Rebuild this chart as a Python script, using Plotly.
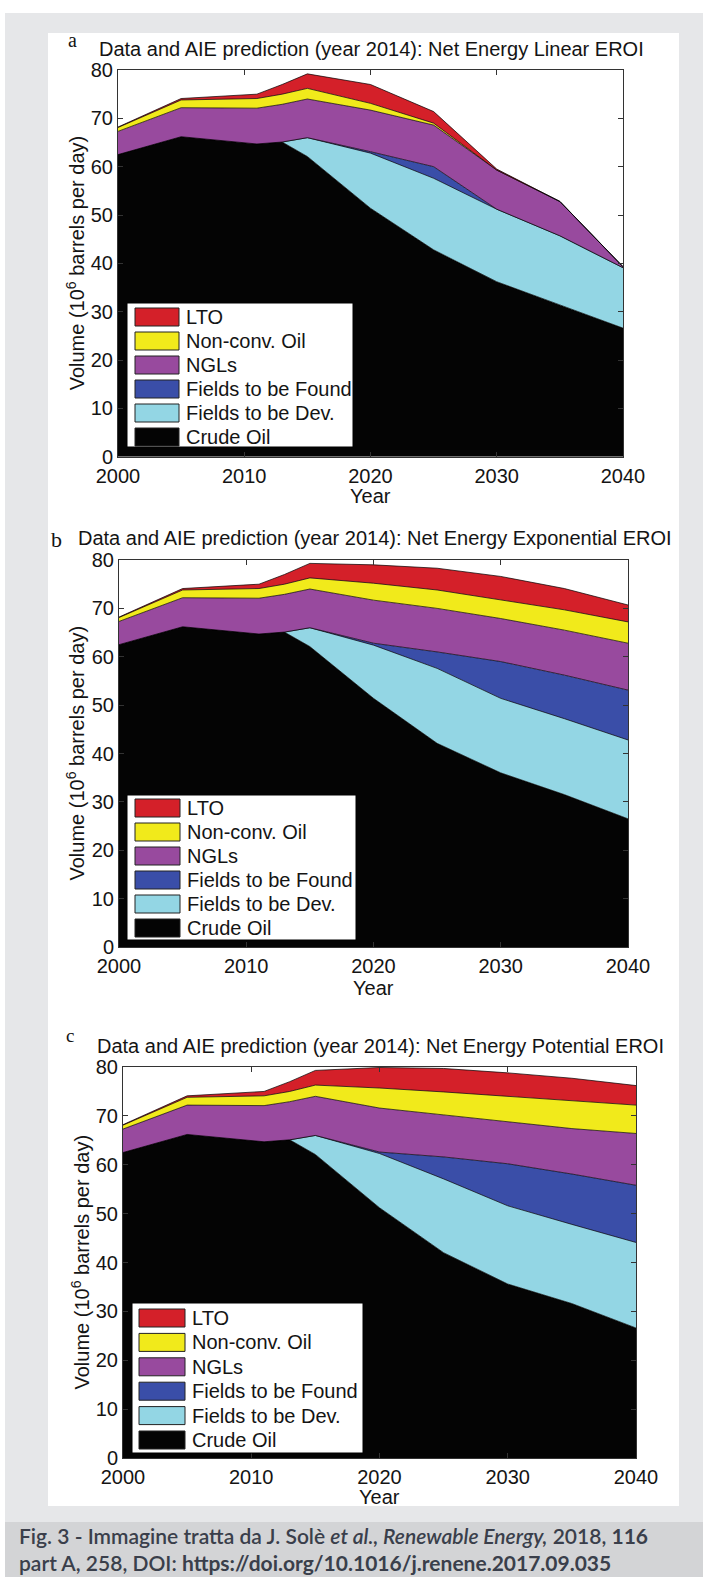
import plotly.graph_objects as go

W, H = 708, 1577

# ---------------------------------------------------------------- data
years = [2000, 2005, 2011, 2013, 2015, 2020, 2025, 2030, 2035, 2040]
x_ticks = [2000, 2010, 2020, 2030, 2040]
y_ticks = [0, 10, 20, 30, 40, 50, 60, 70, 80]

# stacking order, bottom to top
layer_names = ["Crude Oil", "Fields to be Dev.", "Fields to be Found",
               "NGLs", "Non-conv. Oil", "LTO"]
layer_colors = ["#040404", "#93d6e4", "#3a4ea8", "#984a9e", "#f1ea1b", "#d42029"]

# (a) Net Energy Linear EROI, 10^6 barrels per day
linear_crude = [62.5, 66.2, 64.7, 65.1, 62.1, 51.4, 42.8, 36.2, 31.4, 26.6]
linear_dev = [0, 0, 0, 0, 3.9, 11.4, 14.8, 15.0, 14.3, 12.5]
linear_found = [0, 0, 0, 0, 0, 0.3, 2.4, 0, 0, 0]
linear_ngl = [4.8, 6.0, 7.4, 7.8, 8.0, 8.6, 8.6, 8.1, 7.1, 0.2]
linear_nonconv = [0.8, 1.6, 2.0, 2.1, 2.2, 1.4, 0.4, 0, 0, 0]
linear_lto = [0.1, 0.3, 0.9, 2.0, 3.0, 3.9, 2.4, 0.2, 0, 0]

# (b) Net Energy Exponential EROI
expo_crude = [62.5, 66.2, 64.7, 65.1, 62.1, 51.4, 42.1, 36.0, 31.5, 26.5]
expo_dev = [0, 0, 0, 0, 3.9, 11.0, 15.5, 15.4, 15.7, 16.3]
expo_found = [0, 0, 0, 0, 0, 0.4, 3.4, 7.6, 9.0, 10.3]
expo_ngl = [4.8, 6.0, 7.4, 7.8, 8.0, 8.9, 9.0, 8.9, 9.3, 9.7]
expo_nonconv = [0.8, 1.6, 2.0, 2.1, 2.3, 3.5, 3.8, 3.8, 4.2, 4.4]
expo_lto = [0.1, 0.3, 0.9, 2.0, 3.0, 3.8, 4.5, 4.9, 4.4, 3.5]

# (c) Net Energy Potential EROI
pot_crude = [62.5, 66.2, 64.7, 65.1, 62.1, 51.2, 42.0, 35.6, 31.6, 26.6]
pot_dev = [0, 0, 0, 0, 3.9, 11.1, 15.1, 16.0, 16.2, 17.5]
pot_found = [0, 0, 0, 0, 0, 0.3, 4.5, 8.6, 10.3, 11.7]
pot_ngl = [4.8, 6.0, 7.4, 7.8, 8.0, 9.0, 8.6, 8.6, 9.3, 10.6]
pot_nonconv = [0.8, 1.6, 2.0, 2.1, 2.3, 4.1, 4.7, 5.2, 5.6, 5.8]
pot_lto = [0.1, 0.3, 0.9, 2.0, 3.0, 4.2, 4.8, 4.8, 4.7, 4.0]

titles = [
    "Data and AIE prediction (year 2014): Net Energy Linear EROI",
    "Data and AIE prediction (year 2014): Net Energy Exponential EROI",
    "Data and AIE prediction (year 2014): Net Energy Potential EROI",
]
letters = ["a", "b", "c"]
panel_data = [
    [linear_crude, linear_dev, linear_found, linear_ngl, linear_nonconv, linear_lto],
    [expo_crude, expo_dev, expo_found, expo_ngl, expo_nonconv, expo_lto],
    [pot_crude, pot_dev, pot_found, pot_ngl, pot_nonconv, pot_lto],
]

# ---------------------------------------------------------------- layout (pixels)
SANS = "Liberation Sans, Arial, Helvetica, sans-serif"
SERIF = "Liberation Serif, Times New Roman, serif"
INK = "#141414"

panels = [
    dict(box=(118, 623, 70, 456.7), title_y=49, letter=(72, 40, 20),
         ylab_x=75, year_y=495.5,
         legend=dict(box=(127, 353, 303, 447), row0=317, step=24,
                     sw=(135, 179), tx=184)),
    dict(box=(119, 628, 560, 947), title_y=538, letter=(57, 540, 22),
         ylab_x=75, year_y=988,
         legend=dict(box=(127, 356, 795, 940), row0=808, step=24,
                     sw=(135, 180), tx=185)),
    dict(box=(123, 636, 1067, 1458), title_y=1046, letter=(70, 1035, 19),
         ylab_x=80, year_y=1497,
         legend=dict(box=(132, 363, 1303, 1453), row0=1318, step=24.4,
                     sw=(139, 185), tx=190)),
]


def fx(px):
    return px / W


def fy(py):
    return 1 - py / H


fig = go.Figure()
shapes = []
annotations = []

# page background: light grey frame, white figure area, caption band
shapes.append(dict(type="rect", xref="paper", yref="paper", layer="below",
                   x0=fx(5), x1=fx(703), y0=fy(13), y1=fy(1522),
                   fillcolor="#e6e7e9", line=dict(width=0)))
shapes.append(dict(type="rect", xref="paper", yref="paper", layer="below",
                   x0=fx(48), x1=fx(679), y0=fy(33), y1=fy(1506),
                   fillcolor="#ffffff", line=dict(width=0)))
shapes.append(dict(type="rect", xref="paper", yref="paper", layer="below",
                   x0=fx(5), x1=fx(703), y0=fy(1522), y1=fy(1577),
                   fillcolor="#d3d4d6", line=dict(width=0)))

for i, (p, series) in enumerate(zip(panels, panel_data)):
    n = "" if i == 0 else str(i + 1)
    xa, ya = "x" + n, "y" + n
    x0, x1, y0, y1 = p["box"]

    for name, color, vals in zip(layer_names, layer_colors, series):
        fig.add_trace(go.Scatter(
            x=years, y=vals, name=name, xaxis=xa, yaxis=ya,
            stackgroup="s" + str(i), mode="lines",
            line=dict(color="#000000", width=0.7),
            fillcolor=color, showlegend=False, hoverinfo="skip"))

    axis_common = dict(showline=True, linecolor="#333333", linewidth=1,
                       mirror="ticks", ticks="inside", ticklen=5,
                       tickcolor="#333333", showgrid=False, zeroline=False,
                       automargin=False,
                       tickfont=dict(family=SANS, size=20, color=INK))
    fig.update_layout(**{
        "xaxis" + n: dict(domain=[fx(x0), fx(x1)], range=[2000, 2040],
                          tickvals=x_ticks, anchor=ya, ticklabelstandoff=1,
                          **axis_common),
        "yaxis" + n: dict(domain=[fy(y1), fy(y0)], range=[0, 80],
                          tickvals=y_ticks, anchor=xa, **axis_common),
    })

    cx = (x0 + x1) / 2
    annotations.append(dict(text=titles[i], x=fx(cx + 1), y=fy(p["title_y"]),
                            xref="paper", yref="paper", showarrow=False,
                            xanchor="center", yanchor="middle",
                            font=dict(family=SANS, size=20, color=INK)))
    lx, ly, ls = p["letter"]
    annotations.append(dict(text=letters[i], x=fx(lx), y=fy(ly),
                            xref="paper", yref="paper", showarrow=False,
                            xanchor="center", yanchor="middle",
                            font=dict(family=SERIF, size=ls, color=INK)))
    annotations.append(dict(text="Year", x=fx(cx), y=fy(p["year_y"]),
                            xref="paper", yref="paper", showarrow=False,
                            xanchor="center", yanchor="middle",
                            font=dict(family=SANS, size=20, color=INK)))
    annotations.append(dict(text="Volume (10<sup>6</sup> barrels per day)",
                            x=fx(p["ylab_x"]), y=fy((y0 + y1) / 2),
                            xref="paper", yref="paper", showarrow=False,
                            textangle=-90, xanchor="center", yanchor="middle",
                            font=dict(family=SANS, size=20, color=INK)))

    # legend box, entries listed top to bottom
    lg = p["legend"]
    bx0, bx1, by0, by1 = lg["box"]
    shapes.append(dict(type="rect", xref="paper", yref="paper", layer="above",
                       x0=fx(bx0), x1=fx(bx1), y0=fy(by0), y1=fy(by1),
                       fillcolor="#ffffff", line=dict(color="#000000", width=1)))
    order = list(range(len(layer_names)))[::-1]
    for k, idx in enumerate(order):
        ry = lg["row0"] + k * lg["step"]
        shapes.append(dict(type="rect", xref="paper", yref="paper", layer="above",
                           x0=fx(lg["sw"][0]), x1=fx(lg["sw"][1]),
                           y0=fy(ry - 9), y1=fy(ry + 9),
                           fillcolor=layer_colors[idx],
                           line=dict(color="#222222", width=1)))
        annotations.append(dict(text=layer_names[idx], x=fx(lg["tx"]), y=fy(ry),
                                xref="paper", yref="paper", showarrow=False,
                                xanchor="left", yanchor="middle",
                                font=dict(family=SANS, size=20, color=INK)))

# caption
CAP = "Lato, Liberation Sans, sans-serif"
annotations.append(dict(
    text="Fig. 3 - Immagine tratta da J. Solè <i>et al., Renewable Energy,</i> 2018, <b>116</b>",
    x=fx(17), y=fy(1535.5), xref="paper", yref="paper", showarrow=False,
    xanchor="left", yanchor="middle",
    font=dict(family=CAP, size=21, color="#3a3f4b", weight=600)))
annotations.append(dict(
    text="part A, 258, DOI: <b>https://doi.org/10.1016/j.renene.2017.09.035</b>",
    x=fx(17), y=fy(1562), xref="paper", yref="paper", showarrow=False,
    xanchor="left", yanchor="middle",
    font=dict(family=CAP, size=21, color="#3a3f4b", weight=600)))

fig.update_layout(width=W, height=H,
                  margin=dict(l=0, r=0, t=0, b=0, pad=0, autoexpand=False),
                  paper_bgcolor="#ffffff", plot_bgcolor="#ffffff",
                  showlegend=False, shapes=shapes, annotations=annotations)

fig.write_html("out.html")
